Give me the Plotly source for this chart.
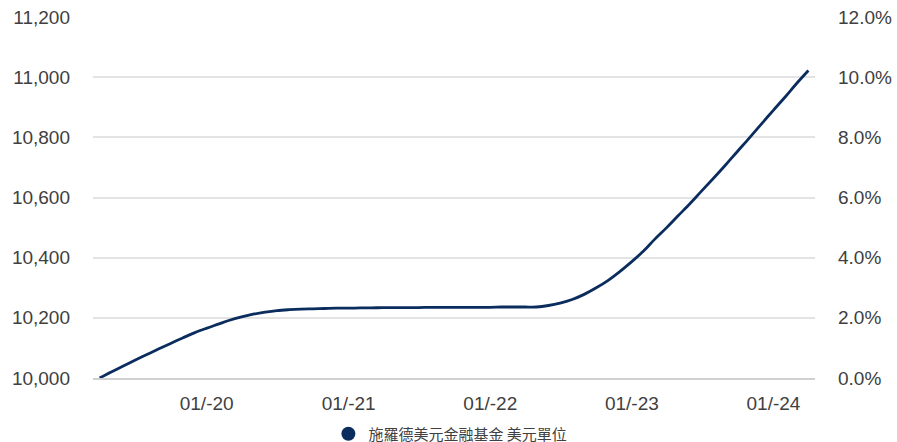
import pandas as pd
import plotly.graph_objects as go

# Month-end dates, Mar 2019 .. Mar 2024
dates = pd.date_range("2019-03-31", periods=61, freq="ME")

# Value of 10,000 USD invested
values = [
    10000, 10020, 10040, 10059, 10078, 10097, 10115, 10133, 10150, 10165,  # Mar19-Dec19
    10179, 10192, 10203, 10212, 10219, 10224, 10227, 10229, 10230, 10231, 10232, 10232,  # 2020
    10233, 10233, 10234, 10234, 10234, 10234, 10235, 10235, 10235, 10235, 10235, 10235,  # 2021
    10236, 10236, 10236, 10236, 10241, 10249, 10261, 10278, 10299, 10324, 10353, 10386,  # 2022
    10422, 10460, 10499, 10539, 10580, 10622, 10665, 10709, 10753, 10798, 10843, 10889,  # 2023
    10934, 10978, 11022,  # Jan24-Mar24
]

series_name = "施羅德美元金融基金 美元單位"
left_ticks = [10000, 10200, 10400, 10600, 10800, 11000, 11200]
right_ticks = [0.0, 0.02, 0.04, 0.06, 0.08, 0.10, 0.12]

navy = "#0b2d5e"
text_color = "#404040"
font_family = "Liberation Sans, Arial, sans-serif"

returns = [v / 10000 - 1 for v in values]

fig = go.Figure()
fig.add_trace(go.Scatter(
    x=dates, y=values, mode="lines",
    line=dict(color=navy, width=2.8, shape="spline", smoothing=1.0),
    showlegend=False, hoverinfo="x+y",
))
# invisible trace carrying the right axis
fig.add_trace(go.Scatter(
    x=dates, y=returns, yaxis="y2", mode="lines",
    line=dict(color="rgba(0,0,0,0)", width=0),
    showlegend=False, hoverinfo="skip",
))
# legend entry with a round marker
fig.add_trace(go.Scatter(
    x=[None], y=[None], mode="markers", name=series_name,
    marker=dict(symbol="circle", size=14, color=navy),
))

fig.update_layout(
    width=897, height=442,
    margin=dict(l=93, r=82, t=17, b=64, pad=0, autoexpand=False),
    paper_bgcolor="white", plot_bgcolor="white",
    font=dict(family=font_family, size=19, color=text_color),
    xaxis=dict(
        type="date",
        range=["2019-03-14", "2024-04-17"],
        tick0="2020-01-01", dtick="M12",
        tickformat="%m/-%y",
        showgrid=False, zeroline=False,
        showline=True, linecolor="#d0d0d0", linewidth=1.5,
        ticks="", ticklabelstandoff=7, automargin=False,
        tickfont=dict(size=19, color=text_color),
    ),
    yaxis=dict(
        range=[10000, 11200],
        tickvals=left_ticks,
        tickformat=",d",
        showgrid=True, gridcolor="#e3e3e3", gridwidth=1.5,
        zeroline=False, showline=False,
        ticks="", ticklabelstandoff=22, automargin=False,
        tickfont=dict(size=19, color=text_color),
    ),
    yaxis2=dict(
        overlaying="y", side="right",
        range=[0, 0.12],
        tickvals=right_ticks,
        tickformat=".1%",
        showgrid=False, zeroline=False, showline=False,
        ticks="", ticklabelstandoff=22, automargin=False,
        tickfont=dict(size=19, color=text_color),
    ),
    legend=dict(
        orientation="h", x=0.495, xanchor="center",
        y=-0.155, yanchor="middle",
        font=dict(family="Noto Sans CJK TC, sans-serif", size=15, color=text_color),
        bgcolor="rgba(0,0,0,0)",
    ),
)

fig.write_html(
    "out.html",
    config={"displayModeBar": False},
    post_script="document.body.style.margin='0';document.body.style.overflow='hidden';",
)
